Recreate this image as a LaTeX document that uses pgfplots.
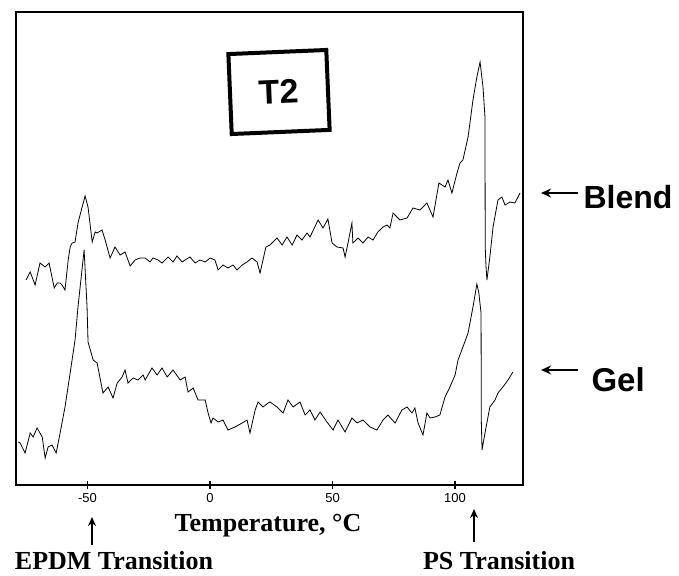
\documentclass[border=0pt]{standalone}
\usepackage{pgfplots}
\pgfplotsset{compat=1.18}
\usepackage{fontspec}
\setmainfont{Liberation Serif}
\setsansfont{Liberation Sans}
\usetikzlibrary{arrows.meta}
\begin{document}
\begin{tikzpicture}
\path (0,0) rectangle (679pt,575pt);
\begin{axis}[at={(16pt,90pt)}, anchor=south west, scale only axis,
  width=506.7pt, height=473pt,
  xmin=-79.2, xmax=127.6, ymin=0, ymax=473,
  axis line style={line width=1.6pt},
  xtick={-50,0,50,100}, xticklabels={-50,0,50,100},
  xtick pos=bottom,
  ytick=\empty, tick align=center, major tick length=8pt,
  xtick style={line width=1.8pt, black},
  xticklabel style={font=\fontsize{13}{13}\selectfont\sffamily, yshift=-1pt},
  clip=false]
% Blend
\addplot[black, line width=0.8pt] coordinates {
(-75.1,205) (-73.4,213) (-71.4,200) (-69.4,222) (-67.3,218) (-65.7,222)
(-63.6,197) (-62.4,202) (-61.2,202) (-60.4,200) (-59.2,195) (-57.9,225)
(-57.1,238) (-56.3,242) (-55.1,243) (-53.9,262) (-52.2,278) (-51.0,289)
(-49.8,278) (-48.1,243) (-46.9,253) (-46.1,252) (-44.1,255) (-42.8,245)
(-40.8,227) (-38.8,238) (-36.7,230) (-34.7,233) (-32.6,219) (-30.6,225)
(-28.6,227) (-26.5,227) (-24.5,223) (-23.3,227) (-21.2,225) (-19.6,222)
(-17.1,228) (-15.1,223) (-13.5,229) (-11.4,223) (-10.2,225) (-8.2,228)
(-6.1,222) (-4.1,225) (-2.0,223) (0,227) (2.0,225) (3.3,215) (5.3,220)
(7.3,217) (9.4,220) (11.0,215) (13.1,220) (15.1,223) (17.1,227) (19.2,223)
(20.4,212) (21.6,225) (22.8,238) (24.5,240) (27.3,247) (29.4,240) (31.4,248)
(33.5,240) (35.5,250) (37.5,245) (39.6,252) (40.8,248) (44.1,265) (46.1,257)
(48.1,266) (49.8,242) (51.8,238) (54.3,237) (55.1,228) (56.3,242) (57.9,262)
(58.3,242) (60.4,247) (62.4,242) (64.5,248) (66.5,245) (68.5,253) (70.6,258)
(72.2,260) (73.4,257) (74.7,272) (77.5,265) (80.4,267) (82.8,277) (85.7,275)
(88.5,282) (91.0,268) (93.4,302) (95.9,298) (97.1,305) (98.7,292) (100.8,312)
(102.0,322) (103.2,325) (105.3,348) (107.3,385) (108.9,408) (110.2,423)
(111.4,398) (112.2,368) (112.3,238) (112.6,220) (113.0,205) (114.2,228)
(115.5,258) (117.5,285) (119.1,288) (120.4,280) (122.4,283) (124.4,282)
(126.5,292)
};
% Gel
\addplot[black, line width=0.8pt] coordinates {
(-78.3,43) (-77.5,42) (-75.5,32) (-73.4,52) (-72.2,48) (-70.6,57) (-68.5,48)
(-67.3,27) (-66.1,38) (-64.5,40) (-62.8,32) (-61.2,52) (-59.2,78) (-57.1,112)
(-55.1,145) (-53.9,178) (-51.4,235) (-50.2,178) (-49.8,143) (-47.7,125)
(-46.1,122) (-43.7,92) (-41.6,98) (-39.6,87) (-37.9,102) (-35.9,108)
(-34.7,115) (-33.5,102) (-31.4,107) (-29.4,105) (-27.3,110) (-26.5,105)
(-23.7,117) (-21.6,110) (-19.6,117) (-17.5,108) (-15.1,115) (-12.2,105)
(-10.2,108) (-9.0,93) (-6.9,97) (-4.9,85) (-2.0,85) (-0.8,72) (0.4,62)
(1.2,67) (3.3,63) (5.3,65) (7.3,55) (10.2,58) (13.1,62) (15.1,65) (16.3,52)
(18.4,75) (19.6,83) (21.6,78) (23.7,82) (24.5,83) (27.3,78) (29.8,72)
(31.8,85) (33.9,78) (36.7,83) (38.8,70) (40.8,75) (42.8,65) (44.9,73)
(47.7,63) (50.2,55) (52.2,65) (55.1,53) (57.9,67) (60.0,62) (62.4,65)
(65.3,58) (68.1,55) (70.6,65) (72.6,70) (75.5,62) (78.3,75) (80.4,78)
(82.4,72) (83.6,77) (84.9,62) (86.9,50) (88.5,72) (89.8,67) (91.8,68)
(93.8,70) (95.9,88) (97.9,98) (100.0,110) (101.2,125) (103.2,138) (105.3,152)
(107.3,178) (108.9,201) (109.7,192) (110.6,172) (110.7,65) (111.0,35)
(112.2,52) (114.2,78) (116.3,85) (117.5,92) (119.5,98) (121.6,105)
(123.6,113)
};
\end{axis}
% T2 box
\node[draw, line width=4pt, rotate=2.4, minimum width=98pt, minimum height=80pt,
  font=\fontsize{34}{34}\selectfont\sffamily\bfseries] at (279pt,483pt) {T2};
% Blend / Gel labels
\draw[-{Stealth[length=10pt,width=9pt]}, line width=2.6pt] (578pt,382pt) -- (541pt,382pt);
\node[anchor=west, font=\fontsize{32}{32}\selectfont\sffamily\bfseries] at (580pt,378pt) {Blend};
\draw[-{Stealth[length=10pt,width=9pt]}, line width=2.6pt] (578pt,205pt) -- (541pt,205pt);
\node[anchor=west, font=\fontsize{33}{33}\selectfont\sffamily\bfseries] at (588pt,195pt) {Gel};
% bottom labels
\node[font=\fontsize{26}{26}\selectfont\bfseries] at (268pt,49pt) {Temperature, °C};
\draw[-{Stealth[length=9pt,width=8pt]}, line width=2pt] (92pt,30pt) -- (92pt,58pt);
\draw[-{Stealth[length=9pt,width=8pt]}, line width=2pt] (474pt,33pt) -- (474pt,66pt);
\node[font=\fontsize{26}{26}\selectfont\bfseries] at (114pt,14pt) {EPDM Transition};
\node[font=\fontsize{26}{26}\selectfont\bfseries] at (499pt,14pt) {PS Transition};
\end{tikzpicture}
\end{document}
